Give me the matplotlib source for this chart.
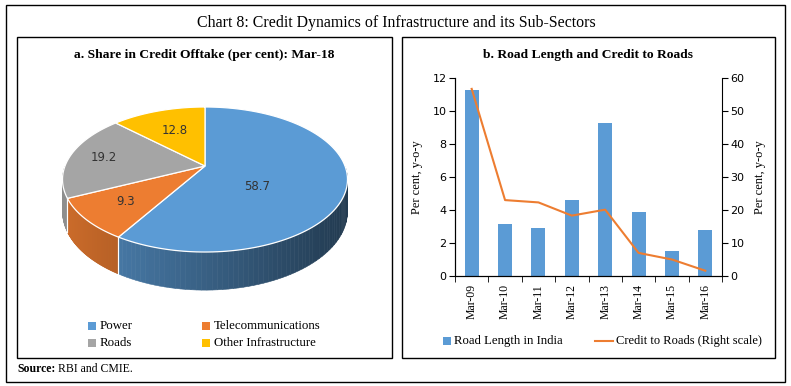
import numpy as np
import matplotlib
matplotlib.use("Agg")
import matplotlib.pyplot as plt
from matplotlib.patches import Rectangle, Polygon

# ---- data ----
pie_labels = ["Power", "Telecommunications", "Roads", "Other Infrastructure"]
pie_shares = [58.7, 9.3, 19.2, 12.8]
pie_colors = ["#5b9bd5", "#ed7d31", "#a5a5a5", "#ffc000"]

years = ["Mar-09", "Mar-10", "Mar-11", "Mar-12", "Mar-13", "Mar-14", "Mar-15", "Mar-16"]
road_length = [11.3, 3.15, 2.9, 4.6, 9.25, 3.9, 1.5, 2.8]
credit_roads = [56.7, 23.0, 22.3, 18.3, 20.1, 7.0, 5.0, 1.6]

SERIF = "Liberation Serif"
SANS = "DejaVu Sans"
W, H = 791, 386

fig = plt.figure(figsize=(W / 100, H / 100), dpi=100)
fig.patch.set_facecolor("white")

# background axes in pixel coordinates
bg = fig.add_axes([0, 0, 1, 1])
bg.set_xlim(0, W)
bg.set_ylim(H, 0)
bg.axis("off")

# frames
bg.add_patch(Rectangle((6, 5), 779, 377, fill=False, lw=1.0, ec="black"))
bg.add_patch(Rectangle((17, 37), 375, 321, fill=False, lw=1.0, ec="black"))
bg.add_patch(Rectangle((402, 37), 373, 321, fill=False, lw=1.0, ec="black"))

bg.text(396, 23, "Chart 8: Credit Dynamics of Infrastructure and its Sub-Sectors",
        ha="center", va="center", fontsize=11.4, family=SERIF)
bg.text(204, 55, "a. Share in Credit Offtake (per cent): Mar-18",
        ha="center", va="center", fontsize=9.7, family=SERIF, weight="bold")
bg.text(588, 55, "b. Road Length and Credit to Roads",
        ha="center", va="center", fontsize=9.7, family=SERIF, weight="bold")
bg.text(17, 369, "Source:", ha="left", va="center", fontsize=8.5, family=SERIF, weight="bold")
bg.text(58, 369, "RBI and CMIE.", ha="left", va="center", fontsize=8.5, family=SERIF)

# ---- 3D pie (perspective projected) ----
cx, cy = 205, 166
a, b, D, depth = 140, 70, 5.37, 31


def proj(theta_deg, r=1.0, dz=0.0):
    t = np.radians(theta_deg)
    u, v = r * np.cos(t), r * np.sin(t)
    s = D / (D + v)
    return cx + a * u * s, cy - b * v * s + dz * s


def shade(color, x):
    rgb = np.array(matplotlib.colors.to_rgb(color))
    t = np.clip((x - (cx - a)) / (2 * a), 0, 1)
    k = 0.86 - 0.48 * t
    return tuple(rgb * k)


bounds = []
start = 90.0
for share in pie_shares:
    end = start - 360 * share / 100
    bounds.append((end, start))
    start = end

# side walls
for (lo, hi), col in zip(bounds, pie_colors):
    th = np.linspace(lo, hi, 120)
    for k in range(len(th) - 1):
        mid = 0.5 * (th[k] + th[k + 1])
        if np.sin(np.radians(mid)) >= 0:
            continue
        x1, y1 = proj(th[k])
        x2, y2 = proj(th[k + 1])
        x3, y3 = proj(th[k + 1], dz=depth)
        x4, y4 = proj(th[k], dz=depth)
        c = shade(col, 0.5 * (x1 + x2))
        bg.add_patch(Polygon([(x1, y1), (x2, y2), (x3, y3), (x4, y4)],
                             closed=True, fc=c, ec=c, lw=0.4, zorder=2))
    # boundary line on side
    for ang in (lo, hi):
        if np.sin(np.radians(ang)) < 0:
            xa, ya = proj(ang)
            xb, yb = proj(ang, dz=depth)
            bg.plot([xa, xb], [ya, yb], color="white", lw=0.8, zorder=3)

# top faces
for (lo, hi), col in zip(bounds, pie_colors):
    th = np.linspace(lo, hi, 150)
    pts = [(cx, cy)] + [proj(t) for t in th]
    bg.add_patch(Polygon(pts, closed=True, fc=col, ec="white", lw=0.9, zorder=4))

# data labels
label_pos = [(-38, 0.45), (None, 0.70), (None, 0.75), (None, 0.60)]
for (lo, hi), share, (ang, r) in zip(bounds, pie_shares, label_pos):
    if ang is None:
        ang = 0.5 * (lo + hi)
    x, y = proj(ang, r)
    bg.text(x, y, f"{share:.1f}", ha="center", va="center", fontsize=8.5,
            family=SANS, color="#333333", zorder=5)

# pie legend
leg_xy = [(88, 326), (202, 326), (88, 343), (202, 343)]
for (x, y), lab, col in zip(leg_xy, pie_labels, pie_colors):
    bg.add_patch(Rectangle((x, y - 4), 8, 8, fc=col, ec="none"))
    bg.text(x + 12, y, lab, ha="left", va="center", fontsize=9.3, family=SERIF)

# ---- bar + line chart ----
ax = fig.add_axes([455 / W, 110 / H, 267 / W, 198 / H])
ax.set_zorder(2)
x = np.arange(len(years))
ax.bar(x, road_length, width=0.42, color="#5b9bd5", zorder=2)
ax.set_xlim(-0.5, len(years) - 0.5)
ax.set_ylim(0, 12)
ax.set_yticks(np.arange(0, 13, 2))
ax.set_xticks(x)
ax.set_xticklabels(years, rotation=90, fontsize=8.5, family=SERIF)
ax.set_xticks(np.arange(-0.5, len(years), 1), minor=True)
ax.tick_params(axis="x", which="major", length=0, pad=6)
ax.tick_params(axis="x", which="minor", length=4, direction="out")
ax.tick_params(axis="y", length=4, direction="out", labelsize=8, pad=2)
for lab in ax.get_yticklabels():
    lab.set_family(SANS)
ax.spines["top"].set_visible(False)
ax.spines["right"].set_visible(False)
ax.set_ylabel("Per cent, y-o-y", fontsize=9, family=SERIF, labelpad=7)
ax.patch.set_alpha(0)

ax2 = ax.twinx()
ax2.plot(x, credit_roads, color="#ed7d31", lw=1.5, zorder=3)
ax2.set_ylim(0, 60)
ax2.set_yticks(np.arange(0, 61, 10))
ax2.tick_params(axis="y", length=4, direction="out", labelsize=8, pad=2)
for lab in ax2.get_yticklabels():
    lab.set_family(SANS)
ax2.spines["top"].set_visible(False)
ax2.set_ylabel("Per cent, y-o-y", fontsize=9, family=SERIF, labelpad=7)

# bar chart legend
bg.add_patch(Rectangle((443, 337), 8, 8, fc="#5b9bd5", ec="none"))
bg.text(454, 341, "Road Length in India", ha="left", va="center", fontsize=9.2, family=SERIF)
bg.plot([595, 613], [341, 341], color="#ed7d31", lw=1.5)
bg.text(616, 341, "Credit to Roads (Right scale)", ha="left", va="center",
        fontsize=9, family=SERIF)

fig.savefig("out.png", dpi=100)
